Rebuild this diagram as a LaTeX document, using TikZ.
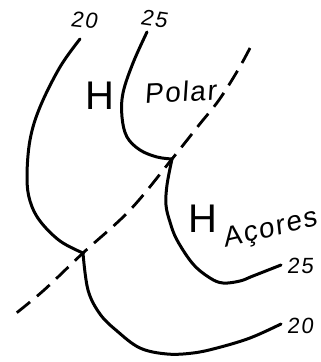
\documentclass[tikz,border=0pt]{standalone}
\usepackage{fontspec}
\setmainfont{Liberation Sans}
\newfontfamily\lblfont[FakeSlant=0.12,LetterSpace=8]{Liberation Sans}
\newfontfamily\wordfont[FakeSlant=0.12,LetterSpace=6]{Liberation Sans}
\begin{document}
\begin{tikzpicture}[x=1pt,y=-1pt,
  iso/.style={line width=3pt,line cap=round,line join=round},
  front/.style={line width=2.8pt,dash pattern=on 17pt off 9pt},
  num/.style={font=\lblfont\fontsize{22}{22}\selectfont,inner sep=0pt},
  hlab/.style={font=\fontsize{40}{40}\selectfont,inner sep=0pt},
  wordlab/.style={font=\wordfont\fontsize{28}{28}\selectfont,inner sep=0pt}]
\useasboundingbox (0,0) rectangle (321,362);
\coordinate (k1) at (172,159);
\coordinate (k2) at (83,253);
% front (dashed)
\draw[front] plot[smooth,tension=0.6] coordinates {(250,48) (238,70) (219,100) (199,125) (k1) (130,210) (k2) (43,291) (10,318)};
% isobar 20
\draw[iso] plot[smooth,tension=0.6] coordinates {(80,39) (60,67) (40,107) (30,140) (27,177) (30,201) (40,221) (60,241) (k2)};
\draw[iso] plot[smooth,tension=0.6] coordinates {(k2) (88,290) (100,314) (117,331) (140,348) (167,354) (193,353) (217,348) (250,338) (281,324)};
% isobar 25
\draw[iso] plot[smooth,tension=0.6] coordinates {(147,32) (133,63) (123,93) (122,117) (127,137) (140,150) (157,157) (k1)};
\draw[iso] plot[smooth,tension=0.6] coordinates {(k1) (167,185) (166,205) (170,222) (177,240) (193,264) (210,278) (223,283) (240,281) (253,276) (281,265)};
% labels
\node[num,rotate=-6] (t20) at (84,20) {20};
\node[num,rotate=-8] (t25) at (154,19) {25};
\node[hlab] (hp) at (100,96) {H};
\node[wordlab,rotate=3] (polar) at (180,92) {Polar};
\node[hlab] (ha) at (203,219) {H};
\node[wordlab,rotate=13] (acores) at (270,230) {Açores};
\node[num] (r25) at (300,266) {25};
\node[num] (r20) at (300,326) {20};
\end{tikzpicture}
\end{document}
